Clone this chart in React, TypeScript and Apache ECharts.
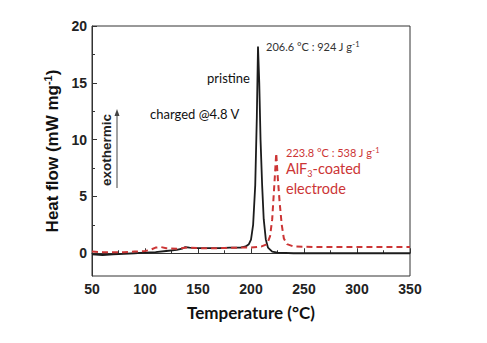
import React, { useEffect, useRef } from "react";
import * as echarts from "echarts";

const xTicks = [50, 100, 150, 200, 250, 300, 350];
const yTicks = [0, 5, 10, 15, 20];
const yMinorTicks = [2.5, 7.5, 12.5, 17.5];

const pristineT = [50, 60, 70, 80, 90, 100, 110, 120, 130, 135, 138, 142, 150, 160, 170, 180, 190, 195, 198, 200, 202, 204, 205.5, 206.6, 207.8, 209, 210.5, 212, 214, 216, 220, 225, 240, 260, 300, 350];
const pristineHF = [-0.1, -0.15, -0.1, -0.05, 0, 0.05, 0.1, 0.2, 0.3, 0.4, 0.55, 0.5, 0.45, 0.45, 0.45, 0.5, 0.5, 0.6, 0.8, 1.2, 2.5, 6, 12, 18.2, 15, 10, 6, 3, 1.2, 0.5, 0.15, 0.05, 0, 0, 0, 0];

const coatedT = [50, 60, 70, 80, 90, 100, 105, 110, 115, 120, 130, 140, 150, 170, 190, 200, 210, 215, 218, 220, 222, 223.8, 225, 227, 229, 231, 234, 240, 260, 300, 350];
const coatedHF = [0.15, 0.1, 0.1, 0.1, 0.15, 0.2, 0.3, 0.5, 0.55, 0.45, 0.4, 0.5, 0.45, 0.45, 0.5, 0.5, 0.6, 0.8, 1.5, 3, 6, 8.8, 7, 4.5, 2.5, 1.3, 0.8, 0.6, 0.55, 0.55, 0.55];

const RED = "#cc3535";
const CAL = "Lato, 'Open Sans', sans-serif";
const ARIAL = "'Liberation Sans', Arial, sans-serif";

export default function App() {
  const ref = useRef<HTMLDivElement>(null);
  useEffect(() => {
    const chart = echarts.init(ref.current!, null, { renderer: "svg" });
    chart.setOption({
      animation: false,
      backgroundColor: "#ffffff",
      grid: {
        left: 92,
        right: 77,
        top: 26,
        bottom: 67,
        show: true,
        borderColor: "#333",
        borderWidth: 1,
        containLabel: false,
      },
      xAxis: {
        type: "value",
        min: 50,
        max: 350,
        interval: 50,
        axisLine: { lineStyle: { color: "#333", width: 1 } },
        axisTick: { inside: true, length: 5, lineStyle: { color: "#333" }, customValues: xTicks },
        minorTick: { show: true, splitNumber: 2, length: 3, lineStyle: { color: "#333" } },
        splitLine: { show: false },
        axisLabel: {
          customValues: xTicks,
          fontFamily: ARIAL,
          fontWeight: "bold",
          fontSize: 14,
          color: "#222",
          margin: 6,
        },
        name: "Temperature (°C)",
        nameLocation: "middle",
        nameGap: 28,
        nameTextStyle: { fontFamily: CAL, fontWeight: "bold", fontSize: 17, color: "#111" },
      },
      yAxis: [
        {
          type: "value",
          min: -2,
          max: 20,
          axisLine: { show: true, lineStyle: { color: "#333", width: 1 } },
          axisTick: { show: true, inside: true, length: 5, lineStyle: { color: "#333" }, customValues: yTicks },
          axisLabel: {
            customValues: yTicks,
            fontFamily: ARIAL,
            fontWeight: "bold",
            fontSize: 14,
            color: "#222",
            margin: 5,
          },
          splitLine: { show: false },
          name: "{a|Heat flow (mW mg}{s|-1}{a|)}",
          nameLocation: "middle",
          nameGap: 27,
          nameTextStyle: {
            rich: {
              a: { fontFamily: ARIAL, fontWeight: "bold", fontSize: 17, color: "#111" },
              s: { fontFamily: ARIAL, fontWeight: "bold", fontSize: 11, color: "#111", verticalAlign: "top", padding: [0, 0, 8, 0] },
            },
          },
        },
        {
          type: "value",
          min: -2,
          max: 20,
          position: "left",
          axisLine: { show: false },
          axisTick: { show: true, inside: true, length: 3, lineStyle: { color: "#333" }, customValues: yMinorTicks },
          axisLabel: { show: false },
          splitLine: { show: false },
        },
      ],
      series: [
        {
          name: "pristine",
          type: "line",
          data: pristineT.map((t, i) => [t, pristineHF[i]]),
          showSymbol: false,
          lineStyle: { color: "#1c1c1c", width: 1.8 },
          z: 2,
        },
        {
          name: "AlF3-coated electrode",
          type: "line",
          data: coatedT.map((t, i) => [t, coatedHF[i]]),
          showSymbol: false,
          lineStyle: { color: RED, width: 2, type: [6, 4] },
          z: 3,
        },
      ],
      graphic: [
        {
          type: "text",
          left: 266,
          top: 40,
          style: {
            text: "{a|206.6 °C : 924 J g}{s|-1}",
            rich: {
              a: { fontFamily: CAL, fontSize: 11, fill: "#333" },
              s: { fontFamily: CAL, fontSize: 7.5, fill: "#333", verticalAlign: "top", padding: [0, 0, 5, 0] },
            },
          },
        },
        {
          type: "text",
          left: 207,
          top: 71,
          style: { text: "pristine", fontFamily: CAL, fontSize: 13, fill: "#111" },
        },
        {
          type: "text",
          left: 150,
          top: 107,
          style: { text: "charged @4.8 V", fontFamily: CAL, fontSize: 13, fill: "#111" },
        },
        {
          type: "text",
          x: 106,
          y: 150,
          rotation: Math.PI / 2,
          style: {
            text: "exothermic",
            fontFamily: ARIAL,
            fontWeight: "bold",
            fontSize: 13.5,
            fill: "#222",
            align: "center",
            verticalAlign: "middle",
          },
        },
        {
          type: "line",
          shape: { x1: 117, y1: 188, x2: 117, y2: 114 },
          style: { stroke: "#444", lineWidth: 1 },
        },
        {
          type: "polygon",
          shape: { points: [[117, 109], [114.5, 116], [119.5, 116]] },
          style: { fill: "#444" },
        },
        {
          type: "text",
          left: 286,
          top: 146,
          style: {
            text: "{a|223.8 °C : 538 J g}{s|-1}",
            rich: {
              a: { fontFamily: CAL, fontSize: 11, fill: RED },
              s: { fontFamily: CAL, fontSize: 7.5, fill: RED, verticalAlign: "top", padding: [0, 0, 5, 0] },
            },
          },
        },
        {
          type: "text",
          left: 286,
          top: 161,
          style: {
            text: "{a|AlF}{s|3}{a|-coated}",
            rich: {
              a: { fontFamily: CAL, fontSize: 14.5, fill: RED },
              s: { fontFamily: CAL, fontSize: 9, fill: RED, padding: [9, 0, 0, 0] },
            },
          },
        },
        {
          type: "text",
          left: 286,
          top: 181,
          style: { text: "electrode", fontFamily: CAL, fontSize: 14.5, fill: RED },
        },
      ],
    });
    return () => chart.dispose();
  }, []);
  return (
    <div
      ref={ref}
      style={{ position: "absolute", left: 0, top: 0, width: 487, height: 343 }}
    />
  );
}
